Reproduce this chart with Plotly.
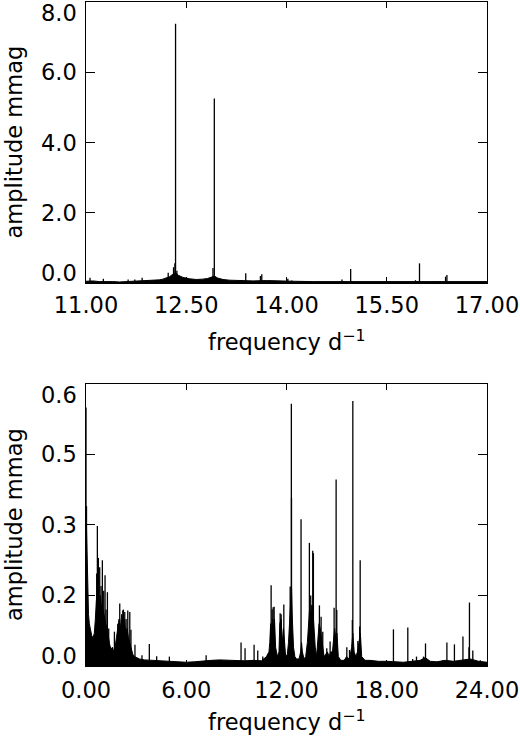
import plotly.graph_objects as go

# ---------------- data ----------------
# Top panel: 11-17 d^-1, amplitude in mmag
top_floor_freq = [11.0, 11.1, 11.2, 11.3, 11.4, 11.5, 11.6, 11.7, 11.8, 11.9, 12.0, 12.1,
                  12.15, 12.2, 12.25, 12.3, 12.34, 12.38, 12.45, 12.55, 12.65, 12.75, 12.82,
                  12.88, 12.92, 12.97, 13.05, 13.15, 13.3, 13.5, 13.7, 13.9, 14.1, 14.4,
                  14.7, 15.0, 15.3, 15.6, 15.9, 16.2, 16.5, 16.8, 17.0]
top_floor_amp = [0.05, 0.06, 0.04, 0.05, 0.04, 0.03, 0.04, 0.05, 0.05, 0.06, 0.07, 0.09,
                 0.11, 0.14, 0.18, 0.25, 0.30, 0.22, 0.16, 0.12, 0.10, 0.11, 0.13,
                 0.17, 0.20, 0.14, 0.10, 0.08, 0.07, 0.06, 0.07, 0.05, 0.05, 0.04,
                 0.04, 0.05, 0.04, 0.04, 0.05, 0.04, 0.05, 0.04, 0.04]
top_peak_freq = [11.06, 11.26, 11.63, 11.73, 11.84, 12.23, 12.31, 12.33, 12.34, 12.36,
                 12.90, 12.92, 13.39, 13.61, 13.63, 14.02, 14.08, 14.83, 14.96, 15.93,
                 15.99, 16.27, 16.38, 16.40]
top_peak_amp = [0.15, 0.12, 0.10, 0.10, 0.15, 0.29, 0.45, 0.56, 7.38, 0.35,
                0.43, 5.25, 0.28, 0.20, 0.25, 0.12, 0.07, 0.10, 0.40, 0.08,
                0.56, 0.05, 0.18, 0.23]

# Bottom panel: 0-24 d^-1, amplitude in mmag
bot_floor_freq = [0.00, 0.03, 0.06, 0.10, 0.15, 0.20, 0.27, 0.34, 0.42, 0.50, 0.56, 0.62,
                  0.70, 0.78, 0.86, 0.94, 1.02, 1.10, 1.18, 1.26, 1.34, 1.42, 1.50, 1.58,
                  1.66, 1.74, 1.82, 1.90, 1.98, 2.06, 2.14, 2.22, 2.30, 2.38, 2.46, 2.54,
                  2.62, 2.70, 2.80, 2.90, 3.00, 3.20, 3.50, 4.00, 4.50, 5.00, 5.50, 6.00,
                  6.50, 7.00, 7.50, 8.00, 8.50, 9.00, 9.50, 10.00, 10.50, 10.80, 10.95,
                  11.00, 11.05, 11.10, 11.15, 11.22, 11.28, 11.35, 11.45, 11.55, 11.60,
                  11.68, 11.75, 11.82, 11.88, 11.95, 12.05, 12.12, 12.18, 12.24, 12.30,
                  12.35, 12.42, 12.50, 12.60, 12.75, 12.85, 12.90, 12.95, 13.05, 13.15,
                  13.25, 13.32, 13.38, 13.45, 13.52, 13.58, 13.65, 13.72, 13.80, 13.88,
                  13.95, 14.02, 14.10, 14.18, 14.25, 14.35, 14.45, 14.55, 14.65, 14.75,
                  14.82, 14.88, 14.95, 15.02, 15.10, 15.25, 15.45, 15.60, 15.70, 15.80,
                  15.90, 15.97, 16.05, 16.15, 16.25, 16.35, 16.42, 16.50, 16.70, 17.00,
                  17.50, 18.00, 18.50, 19.00, 19.50, 20.00, 20.30, 20.60, 21.00, 21.50,
                  22.00, 22.50, 23.00, 23.50, 24.00]
bot_floor_amp = [0.34, 0.30, 0.22, 0.15, 0.11, 0.09, 0.075, 0.065, 0.06, 0.07, 0.10, 0.14,
                 0.16, 0.13, 0.15, 0.12, 0.12, 0.10, 0.09, 0.08, 0.06, 0.045, 0.035, 0.04,
                 0.03, 0.04, 0.06, 0.08, 0.10, 0.08, 0.11, 0.09, 0.10, 0.07, 0.08, 0.06,
                 0.05, 0.035, 0.025, 0.02, 0.018, 0.015, 0.013, 0.012, 0.011, 0.010, 0.008, 0.008,
                 0.009, 0.011, 0.012, 0.013, 0.012, 0.012, 0.011, 0.012, 0.011, 0.02, 0.03,
                 0.05, 0.09, 0.06, 0.10, 0.08, 0.10, 0.04, 0.02, 0.03, 0.09,
                 0.10, 0.05, 0.08, 0.05, 0.02, 0.025, 0.05, 0.09, 0.14, 0.17,
                 0.10, 0.04, 0.02, 0.015, 0.015, 0.03, 0.05, 0.03, 0.015, 0.02,
                 0.05, 0.09, 0.12, 0.11, 0.13, 0.12, 0.08, 0.04, 0.02, 0.05,
                 0.09, 0.08, 0.06, 0.03, 0.02, 0.025, 0.03, 0.02, 0.03, 0.03,
                 0.06, 0.08, 0.06, 0.07, 0.02, 0.012, 0.012, 0.02, 0.015, 0.02,
                 0.04, 0.07, 0.03, 0.02, 0.03, 0.05, 0.07, 0.02, 0.012, 0.012,
                 0.010, 0.010, 0.009, 0.008, 0.010, 0.012, 0.018, 0.010, 0.009, 0.012,
                 0.010, 0.012, 0.015, 0.010, 0.008]
bot_peak_freq = [0.00, 0.03, 0.64, 0.68, 0.74, 0.82, 0.90, 0.98, 1.06, 1.14, 1.20, 1.28,
                 1.36, 1.58, 1.70, 1.90, 2.02, 2.12, 2.20, 2.24, 2.32, 2.40, 2.50, 2.62,
                 2.69, 2.93, 3.35, 3.79, 4.23, 4.99, 7.19, 9.28, 9.52, 10.06, 10.28, 10.58,
                 11.08, 11.14, 11.20, 11.26, 11.62, 11.68, 11.84, 12.22, 12.29, 12.30,
                 12.87, 13.37, 13.45, 13.57, 13.61, 13.97, 14.07, 14.17, 14.41, 14.61,
                 14.85, 14.97, 15.01, 15.61, 15.77, 15.94, 15.97, 16.27, 16.38, 16.41,
                 18.40, 19.26, 19.55, 19.78, 20.20, 20.32, 21.35, 21.60, 22.05, 22.56,
                 22.92, 22.95, 23.15, 23.60]
bot_peak_amp = [0.55, 0.34, 0.197, 0.298, 0.23, 0.21, 0.17, 0.225, 0.16, 0.193, 0.12, 0.157,
                0.08, 0.038, 0.073, 0.09, 0.133, 0.10, 0.118, 0.12, 0.115, 0.10, 0.118, 0.115,
                0.077, 0.045, 0.023, 0.047, 0.021, 0.020, 0.023, 0.050, 0.038, 0.045, 0.033, 0.020,
                0.172, 0.12, 0.125, 0.126, 0.112, 0.11, 0.131, 0.169, 0.558, 0.357,
                0.312, 0.262, 0.15, 0.245, 0.24, 0.129, 0.105, 0.073, 0.038, 0.052,
                0.124, 0.397, 0.119, 0.040, 0.034, 0.098, 0.564, 0.053, 0.084, 0.225,
                0.078, 0.082, 0.015, 0.020, 0.020, 0.048, 0.012, 0.050, 0.046, 0.063,
                0.040, 0.135, 0.033, 0.012]

top_xticks = [11.0, 12.5, 14.0, 15.5, 17.0]
top_yticks = [0.0, 2.0, 4.0, 6.0, 8.0]
top_ylabels = ["0.0", "2.0", "4.0", "6.0", "8.0"]
bot_xticks = [0.0, 6.0, 12.0, 18.0, 24.0]
bot_yticks = [0.0, 0.15, 0.30, 0.45, 0.60]
bot_ylabels = ["0.0", "0.2", "0.3", "0.5", "0.6"]

x_title = "frequency d<sup>−1</sup>"
y_title = "amplitude mmag"

# ---------------- figure ----------------
FONT = "DejaVu Sans"
FS = 22.5
TFS = 22.5


def stems(freqs, amps):
    xs, ys = [], []
    for f, a in zip(freqs, amps):
        xs += [f, f, None]
        ys += [0, a, None]
    return xs, ys


fig = go.Figure()

for floor_f, floor_a, pk_f, pk_a, xa, ya in [
    (top_floor_freq, top_floor_amp, top_peak_freq, top_peak_amp, "x", "y"),
    (bot_floor_freq, bot_floor_amp, bot_peak_freq, bot_peak_amp, "x2", "y2"),
]:
    fig.add_trace(go.Scatter(x=floor_f, y=floor_a, mode="lines",
                             line=dict(color="black", width=1),
                             fill="tozeroy", fillcolor="black",
                             xaxis=xa, yaxis=ya, showlegend=False, hoverinfo="skip"))
    sx, sy = stems(pk_f, pk_a)
    fig.add_trace(go.Scatter(x=sx, y=sy, mode="lines",
                             line=dict(color="black", width=1.3),
                             xaxis=xa, yaxis=ya, showlegend=False, hoverinfo="skip"))

axis_common = dict(showline=True, linecolor="black", linewidth=1.3, mirror="allticks",
                   showgrid=False, zeroline=False, ticks="inside", tickcolor="black",
                   tickwidth=1.3)

fig.update_layout(
    width=520, height=739,
    margin=dict(l=86, r=33, t=2, b=73),
    paper_bgcolor="white", plot_bgcolor="white",
    font=dict(family=FONT, size=FS, color="black"),
    showlegend=False,
    xaxis=dict(domain=[0, 1], anchor="y", range=[11, 17], tickvals=top_xticks,
               tickformat=".2f", ticklen=6, tickfont=dict(size=TFS),
               ticklabeloverflow="allow", ticklabelstandoff=2, **axis_common),
    yaxis=dict(domain=[0.5768, 1], anchor="x", range=[0, 8], tickvals=top_yticks,
               showticklabels=False, ticklen=9, **axis_common),
    xaxis2=dict(domain=[0, 1], anchor="y2", range=[0, 24], tickvals=bot_xticks,
                tickformat=".2f", ticklen=6, tickfont=dict(size=TFS),
                ticklabeloverflow="allow", ticklabelstandoff=4, **axis_common),
    yaxis2=dict(domain=[0, 0.4247], anchor="x2", range=[0, 0.6], tickvals=bot_yticks,
                showticklabels=False, ticklen=9, **axis_common),
)

annotations = []
for yref, vals, labels in [("y", top_yticks, top_ylabels), ("y2", bot_yticks, bot_ylabels)]:
    n = len(vals)
    for i, (v, lab) in enumerate(zip(vals, labels)):
        if i == 0:
            anch, shift = "bottom", -5
        elif i == n - 1:
            anch, shift = "top", 4
        else:
            anch, shift = "middle", 0
        annotations.append(dict(text=lab, xref="paper", x=0, yref=yref, y=v,
                                xanchor="right", yanchor=anch, xshift=-7, yshift=shift,
                                showarrow=False, font=dict(family=FONT, size=TFS)))

# axis titles
for yd in ["y domain", "y2 domain"]:
    annotations.append(dict(text=y_title, xref="paper", x=0, yref=yd, y=0.5,
                            xanchor="center", yanchor="middle", xshift=-72, textangle=-90,
                            showarrow=False, font=dict(family=FONT, size=FS)))
annotations.append(dict(text=x_title, xref="x domain", x=0.5, yref="y domain", y=0,
                        xanchor="center", yanchor="middle", yshift=-57,
                        showarrow=False, font=dict(family=FONT, size=FS)))
annotations.append(dict(text=x_title, xref="x2 domain", x=0.5, yref="y2 domain", y=0,
                        xanchor="center", yanchor="middle", yshift=-54,
                        showarrow=False, font=dict(family=FONT, size=FS)))
fig.update_layout(annotations=annotations)

fig.write_html("out.html", config={"displayModeBar": False},
               post_script="document.body.style.margin='0';document.body.style.padding='0';")
